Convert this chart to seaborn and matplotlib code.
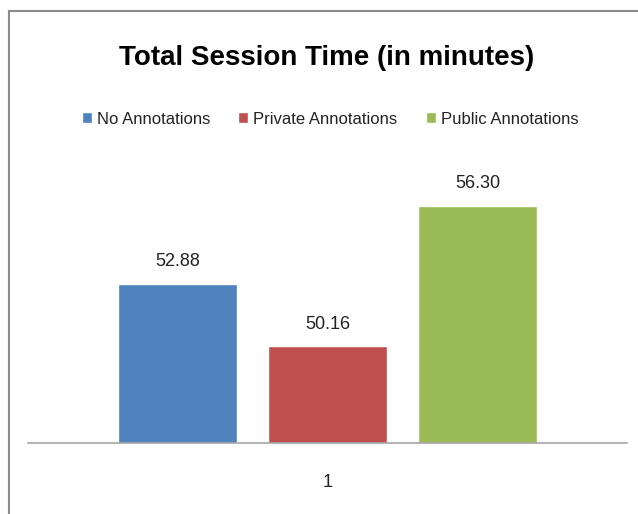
import matplotlib
matplotlib.use("Agg")
import matplotlib.pyplot as plt
import seaborn as sns
import pandas as pd
from matplotlib.patches import Rectangle

series = ["No Annotations", "Private Annotations", "Public Annotations"]
values = [52.88, 50.16, 56.30]
group = ["1", "1", "1"]
colors = ["#4F81BD", "#C0504D", "#9BBB59"]
title = "Total Session Time (in minutes)"

sns.set_style("white")
plt.rcParams['font.family'] = ['Liberation Sans', 'DejaVu Sans']

df = pd.DataFrame({"group": group, "series": series, "value": values})

W, H = 638, 514
fig = plt.figure(figsize=(W / 100, H / 100), dpi=100)
fig.patch.set_facecolor("white")

# outer chart frame
fig.patches.append(Rectangle((9 / W, -0.1), 1.2, (H - 11) / H + 0.1, transform=fig.transFigure,
                             fill=False, edgecolor="#8C8C8C", linewidth=1.5))

ax = fig.add_axes([28 / W, (H - 443) / H, 599 / W, (443 - 169) / H])
sns.barplot(data=df, x="group", y="value", hue="series", palette=colors,
            width=0.751, gap=0.207, ax=ax, saturation=1, legend=True)
ax.set_ylim(45.95, 57.9)
ax.set_xlim(-0.5, 0.5)
ax.set_xlabel("")
ax.set_ylabel("")
ax.set_yticks([])
for s in ["top", "right", "left"]:
    ax.spines[s].set_visible(False)
ax.spines["bottom"].set_color("#A6A6A6")
ax.spines["bottom"].set_linewidth(1.2)
ax.tick_params(axis="x", length=0, pad=22, labelsize=13, labelcolor="#222222")

for cont in ax.containers:
    ax.bar_label(cont, fmt="%.2f", padding=10, fontsize=13, color="#222222")

handles, labels = ax.get_legend_handles_labels()
ax.get_legend().remove()
fig.legend(handles, labels, loc="center", bbox_to_anchor=(330 / W, 1 - 119 / H), ncol=3,
           frameon=False, fontsize=12, handlelength=0.6, handleheight=0.6,
           handletextpad=0.3, columnspacing=1.7, labelcolor="#222222")

fig.text(327 / W, 1 - 58 / H, title, ha="center", va="center", fontsize=20,
         fontweight="bold", color="black")

fig.savefig("out.png", dpi=100)
